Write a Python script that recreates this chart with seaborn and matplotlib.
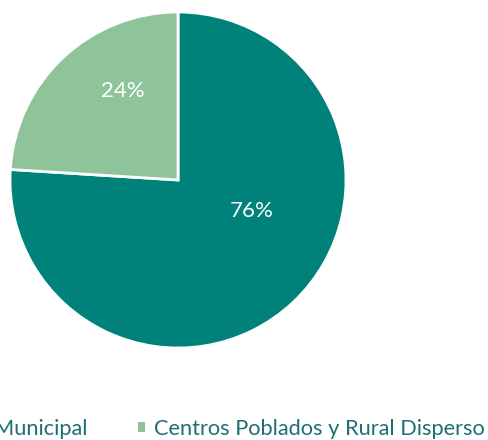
import matplotlib
matplotlib.use("Agg")
import matplotlib.pyplot as plt
from matplotlib.patches import Patch
import seaborn as sns

sns.set_theme(style="white")
plt.rcParams['font.family'] = ['Lato', 'DejaVu Sans']

categories = ["Cabecera Municipal", "Centros Poblados y Rural Disperso"]
values = [76, 24]
colors = ["#00827A", "#8FC49A"]
text_color = "#1F6E74"

W, H = 488, 440
fig = plt.figure(figsize=(W / 100, H / 100), dpi=100)
cx, cy, r = 178, 180, 168
ax = fig.add_axes([(cx - r) / W, (H - cy - r) / H, 2 * r / W, 2 * r / H])

wedges, texts, autotexts = ax.pie(
    values, colors=colors, startangle=90, counterclock=False,
    autopct=lambda p: f"{p:.0f}%", pctdistance=0.6,
    wedgeprops=dict(edgecolor="white", linewidth=2),
    textprops=dict(color="white", fontsize=16),
)
ax.set_xlim(-1, 1)
ax.set_ylim(-1, 1)
ax.set_aspect("equal")
# Excel-like label placement
autotexts[0].set_position((0.44, -0.185))
autotexts[1].set_position((-0.33, 0.53))
for t in autotexts:
    t.set_ha("center"); t.set_va("center")

handles = [Patch(facecolor=c, edgecolor="none") for c in colors]
fs = 15.7
leg = fig.legend(handles, categories, loc="lower left", bbox_to_anchor=(0, 0),
                 ncol=2, frameon=False, fontsize=fs, handlelength=0.32,
                 handleheight=0.32, handletextpad=0.42, columnspacing=2.3,
                 borderpad=0, borderaxespad=0)
for t in leg.get_texts():
    t.set_color(text_color)

fig.canvas.draw()
ext = leg.get_texts()[1].get_window_extent()
dx = 485 - ext.x1
dy = (H - 437) - ext.y0 - 2
leg.set_bbox_to_anchor((dx / W, dy / H), transform=fig.transFigure)

fig.savefig("out.png", dpi=100, facecolor="white")
